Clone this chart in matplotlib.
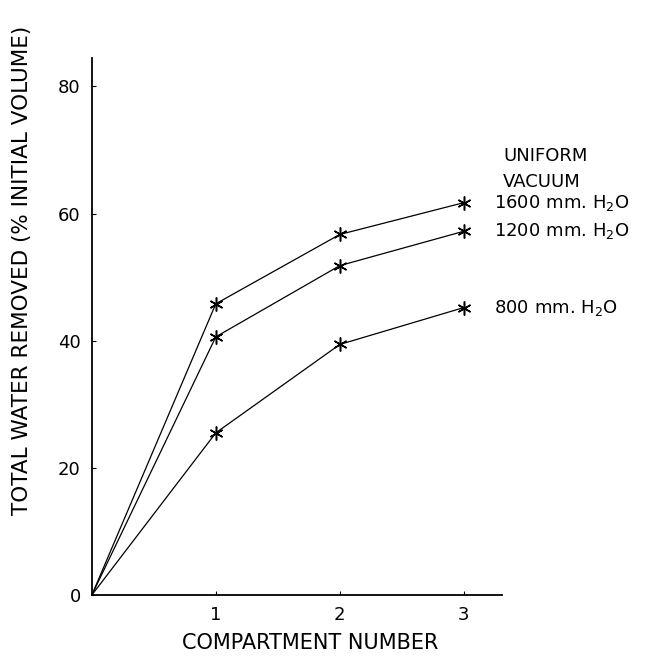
import matplotlib.pyplot as plt

# Data
compartments = [0, 1, 2, 3]
vac_1600 = [0, 45.8, 56.7, 61.7]
vac_1200 = [0, 40.6, 51.8, 57.2]
vac_800 = [0, 25.5, 39.4, 45.2]
series_labels = ["1600 mm. H$_2$O", "1200 mm. H$_2$O", "800 mm. H$_2$O"]

fig = plt.figure(figsize=(6.47, 6.56), dpi=100)
ax = fig.add_axes([0.142, 0.093, 0.634, 0.819])

for vals, lab in zip([vac_1600, vac_1200, vac_800], series_labels):
    ax.plot(compartments, vals, color='black', lw=0.9,
            marker=(6, 2, 0), markersize=10, markevery=[1, 2, 3], mew=1.1)
    ax.annotate(lab, xy=(compartments[-1], vals[-1]),
                xytext=(22, 0), textcoords='offset points', va='center',
                fontsize=13, clip_on=False)

ax.text(3.32, 69.0, "UNIFORM", fontsize=13, va='center')
ax.text(3.32, 64.9, "VACUUM", fontsize=13, va='center')

ax.set_xlim(0, 3.31)
ax.set_ylim(0, 84.5)
ax.set_xticks([1, 2, 3])
ax.set_yticks([0, 20, 40, 60, 80])
ax.spines['top'].set_visible(False)
ax.spines['right'].set_visible(False)
ax.spines['left'].set_linewidth(1.3)
ax.spines['bottom'].set_linewidth(1.3)
ax.tick_params(direction='in', length=3, labelsize=13, pad=8)
ax.set_xlabel("COMPARTMENT NUMBER", fontsize=15)
ax.xaxis.set_label_coords(0.532, -0.071)
ax.set_ylabel("TOTAL WATER REMOVED (% INITIAL VOLUME)", fontsize=15.5)
ax.yaxis.set_label_coords(-0.146, 0.605)

fig.savefig("out.png", dpi=100)
